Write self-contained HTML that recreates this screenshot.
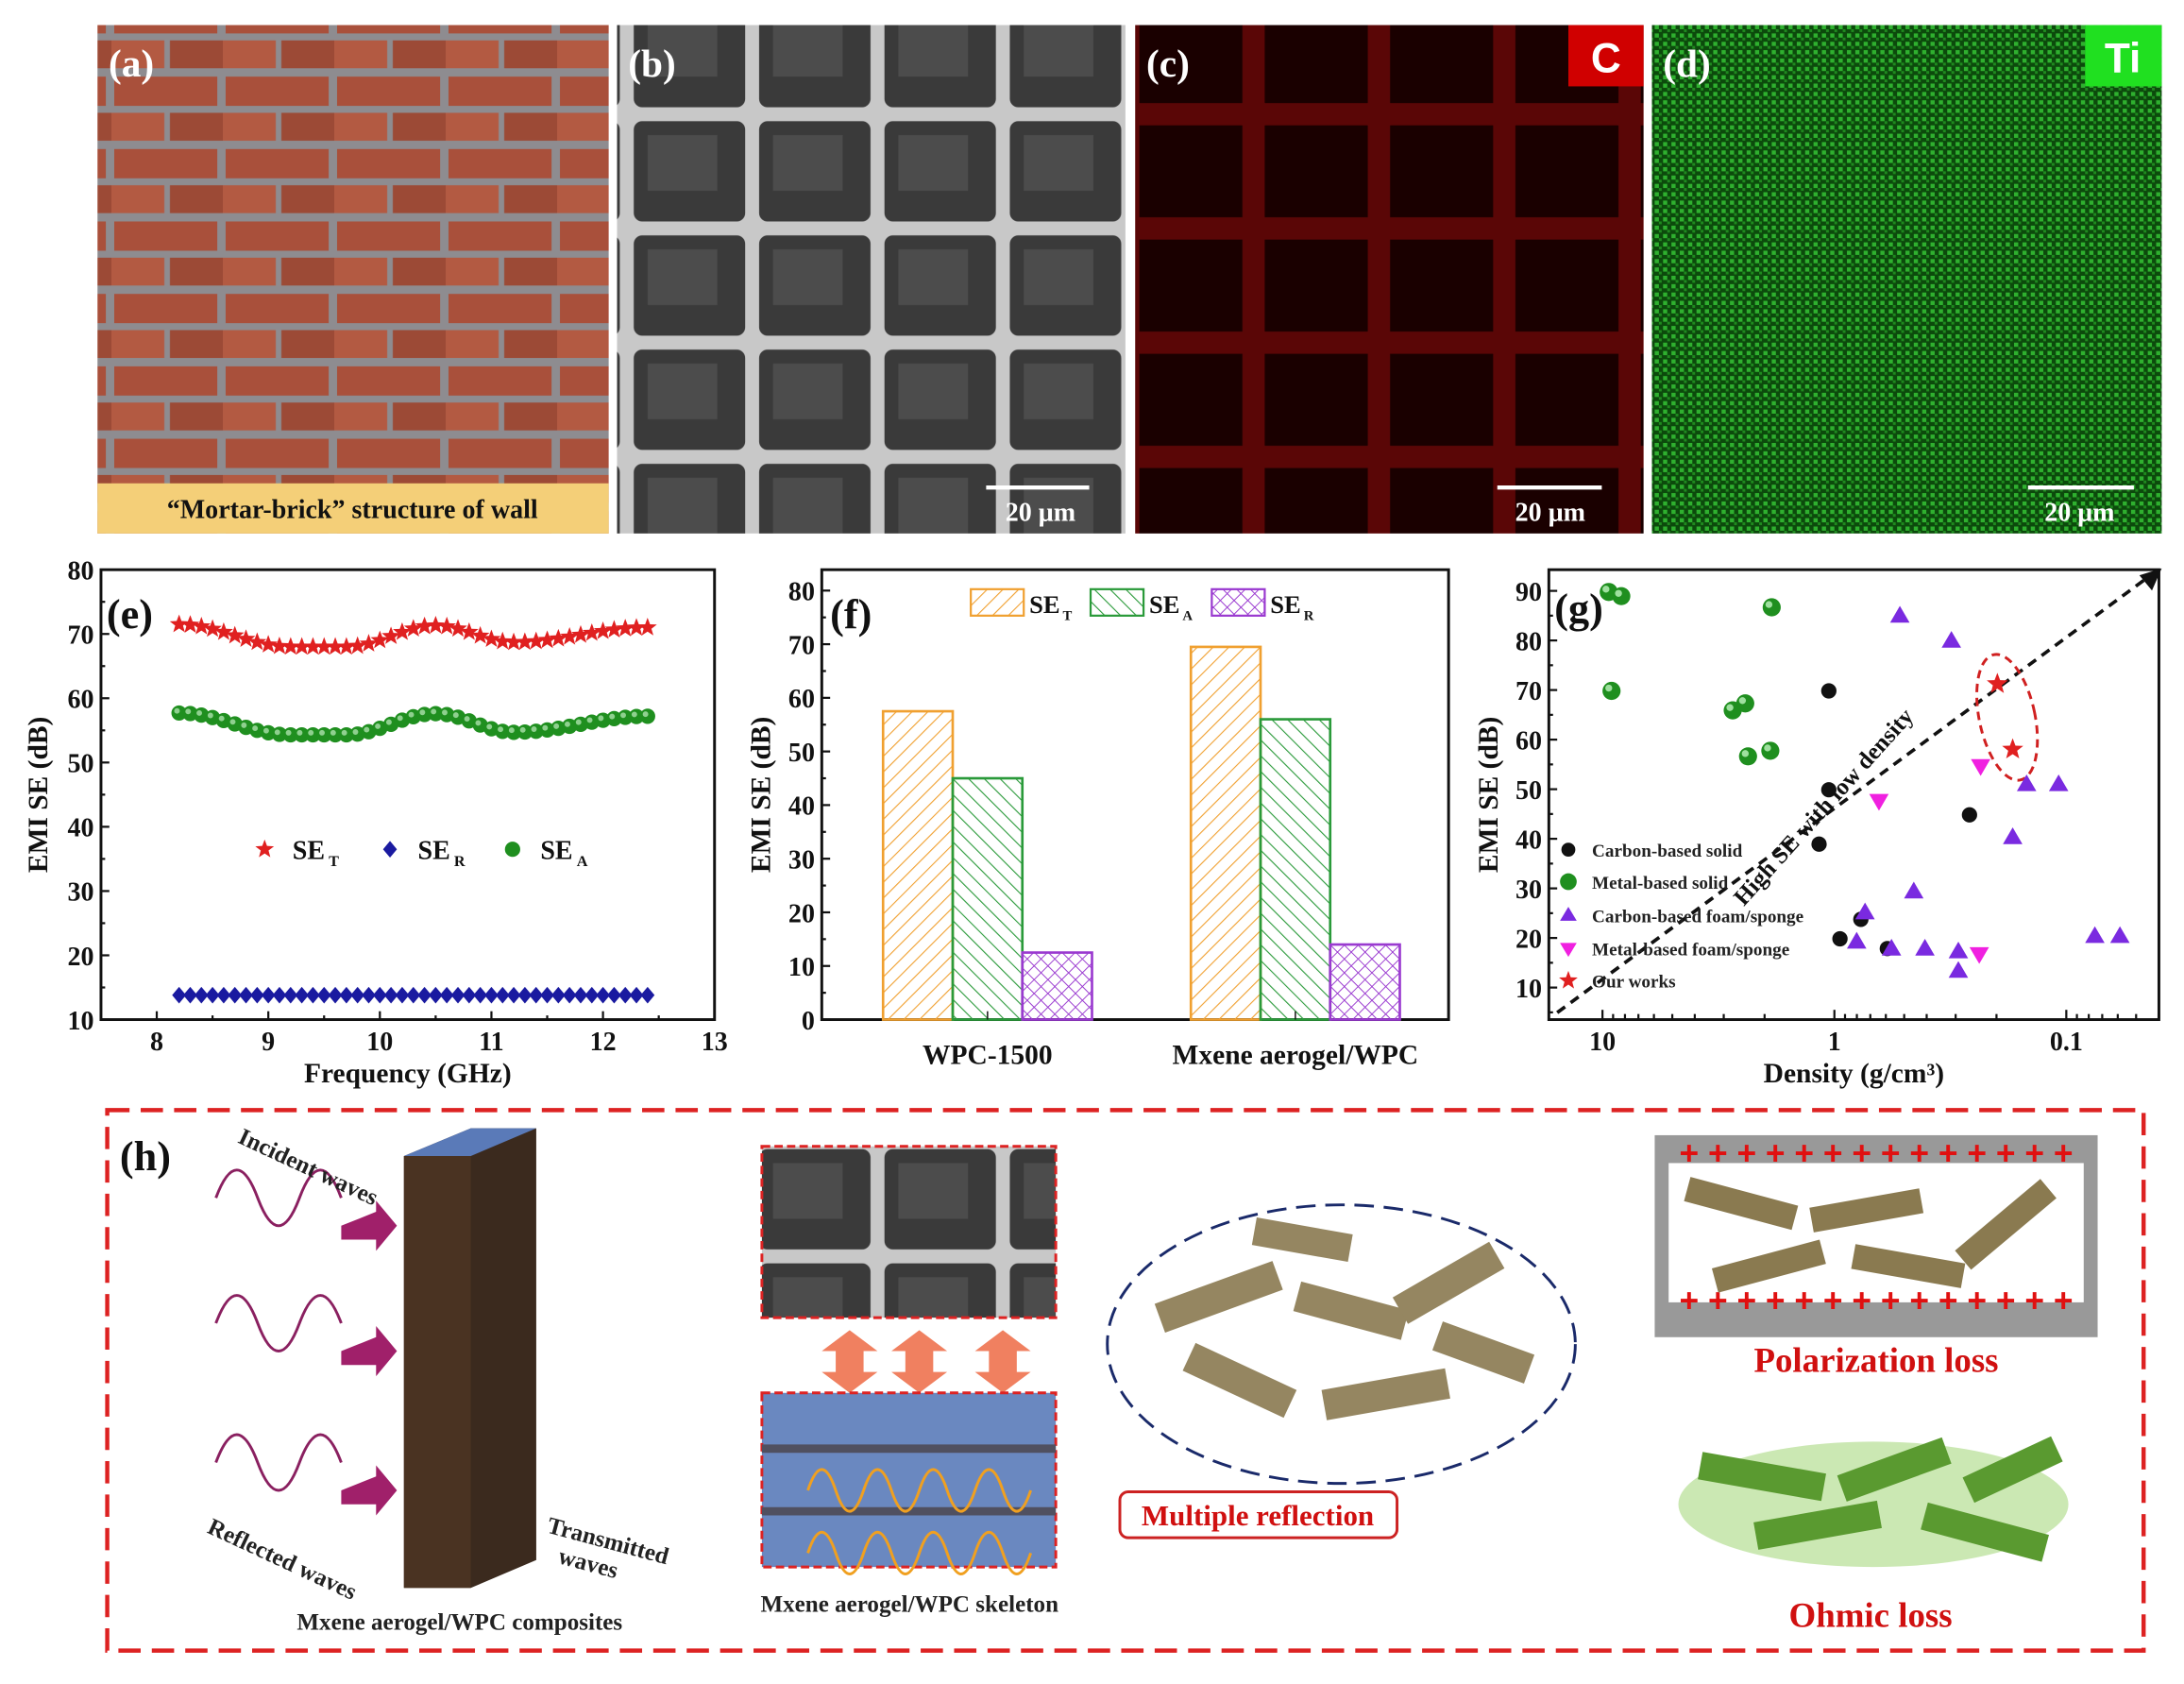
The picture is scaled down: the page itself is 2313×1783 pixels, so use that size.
<!DOCTYPE html>
<html><head><meta charset="utf-8"><style>
html,body{margin:0;padding:0;background:#fff;}
svg{display:block;font-family:"Liberation Serif",serif;font-weight:bold;}
</style></head><body>
<svg id="s" width="2313" height="1783" viewBox="0 0 1568 1209" preserveAspectRatio="none" xmlns="http://www.w3.org/2000/svg">
<defs>
<pattern id="brick" width="80" height="52" patternUnits="userSpaceOnUse">
<rect width="80" height="52" fill="#8e8c90"/>
<rect x="2" y="3" width="74" height="21" fill="#a9503b"/>
<rect x="-38" y="29" width="76" height="20" fill="#b35a42"/>
<rect x="42" y="29" width="76" height="20" fill="#9c4a36"/>
</pattern>
<pattern id="sem" width="90" height="82" patternUnits="userSpaceOnUse">
<rect width="90" height="82" fill="#c8c8c8"/>
<rect x="5" y="5" width="80" height="72" rx="6" fill="#3a3a3a"/>
<rect x="15" y="15" width="50" height="40" fill="#4c4c4c"/>
</pattern>
<pattern id="red" width="90" height="82" patternUnits="userSpaceOnUse">
<rect width="90" height="82" fill="#5a0606"/>
<rect x="8" y="8" width="74" height="66" fill="#1a0000"/>
</pattern>
<pattern id="grn" width="6" height="6" patternUnits="userSpaceOnUse">
<rect width="6" height="6" fill="#0c4a0c"/>
<rect x="0" y="0" width="3" height="3" fill="#2fb02f"/>
<rect x="3" y="3" width="2" height="2" fill="#1f8a1f"/>
</pattern>
<pattern id="hT" width="8" height="8" patternUnits="userSpaceOnUse" patternTransform="rotate(45)"><line x1="0" y1="0" x2="0" y2="8" stroke="#f0a030" stroke-width="1.5"/></pattern>
<pattern id="hA" width="8" height="8" patternUnits="userSpaceOnUse" patternTransform="rotate(-45)"><line x1="0" y1="0" x2="0" y2="8" stroke="#2a9a3a" stroke-width="1.5"/></pattern>
<pattern id="hR" width="7" height="7" patternUnits="userSpaceOnUse" patternTransform="rotate(45)"><path d="M0 0V7M0 0H7" stroke="#9a3ad0" stroke-width="1.3"/></pattern>
</defs>
<rect width="1568" height="1209" fill="#fff"/>
<!-- top photos -->
<rect x="70" y="18" width="367" height="365" fill="url(#brick)"/>
<rect x="70" y="347" width="367" height="36" fill="#f4cf78"/>
<text x="253" y="372" text-anchor="middle" font-size="19" fill="#111">“Mortar-brick” structure of wall</text>
<text x="78" y="55" font-size="28" fill="#fff">(a)</text>
<rect x="443" y="18" width="365" height="365" fill="url(#sem)"/>
<text x="451" y="55" font-size="28" fill="#fff">(b)</text>
<rect x="815" y="18" width="365" height="365" fill="url(#red)"/>
<text x="823" y="55" font-size="28" fill="#fff">(c)</text>
<rect x="1126" y="18" width="54" height="44" fill="#d00000"/><text x="1153" y="52" text-anchor="middle" font-size="30" fill="#fff" font-family="Liberation Sans">C</text>
<rect x="1186" y="18" width="366" height="365" fill="url(#grn)"/>
<text x="1194" y="55" font-size="28" fill="#fff">(d)</text>
<rect x="1497" y="18" width="55" height="44" fill="#20e020"/><text x="1524" y="52" text-anchor="middle" font-size="30" fill="#fff" font-family="Liberation Sans">Ti</text>
<g stroke="#fff" stroke-width="3"><line x1="708" y1="350" x2="782" y2="350"/><line x1="1075" y1="350" x2="1150" y2="350"/><line x1="1456" y1="350" x2="1532" y2="350"/></g>
<g fill="#fff" font-size="19" text-anchor="middle"><text x="747" y="374">20 μm</text><text x="1113" y="374">20 μm</text><text x="1493" y="374">20 μm</text></g>

<g id="e"></g>
<g id="f"></g>
<g id="g"></g>

<!-- panel h -->
<rect x="77" y="797" width="1462" height="388" fill="none" stroke="#d22" stroke-width="3" stroke-dasharray="16,8"/>
<text x="86" y="840" font-size="30" fill="#111">(h)</text>
<polygon points="290,830 338,810 385,810 385,1120 338,1140 290,1140" fill="#3b2a1e"/>
<polygon points="290,830 338,810 385,810 338,830" fill="#5a7ab8"/>
<rect x="290" y="830" width="48" height="310" fill="#4a3322"/>
<g fill="none" stroke-width="2">
<path d="M155,860 q15,-40 30,0 t30,0 t30,0" stroke="#8a2060"/>
<path d="M155,950 q15,-40 30,0 t30,0 t30,0" stroke="#8a2060"/>
<path d="M155,1050 q15,-40 30,0 t30,0 t30,0" stroke="#8a2060"/>
</g>
<g fill="#a0206a"><polygon points="245,880 270,870 270,862 285,880 270,898 270,890 245,890"/><polygon points="245,970 270,960 270,952 285,970 270,988 270,980 245,980"/><polygon points="245,1070 270,1060 270,1052 285,1070 270,1088 270,1080 245,1080"/></g>
<g font-size="17" fill="#222">
<text x="170" y="820" transform="rotate(25 170 820)">Incident waves</text>
<text x="148" y="1100" transform="rotate(25 148 1100)">Reflected waves</text>
<text x="392" y="1100" transform="rotate(15 392 1100)">Transmitted</text>
<text x="400" y="1122" transform="rotate(15 400 1122)">waves</text>
<text x="330" y="1170" text-anchor="middle">Mxene aerogel/WPC composites</text>
<text x="653" y="1157" text-anchor="middle">Mxene aerogel/WPC skeleton</text>
<text x="937" y="1030" text-anchor="middle">Mxene aerogel</text>
</g>
<rect x="547" y="823" width="211" height="123" fill="url(#sem)" stroke="#d22" stroke-width="2" stroke-dasharray="6,3"/>
<g fill="#f08060"><polygon points="590,970 610,955 630,970 620,970 620,985 630,985 610,1000 590,985 600,985 600,970"/><polygon points="640,970 660,955 680,970 670,970 670,985 680,985 660,1000 640,985 650,985 650,970"/><polygon points="700,970 720,955 740,970 730,970 730,985 740,985 720,1000 700,985 710,985 710,970"/></g>
<rect x="547" y="1000" width="211" height="125" fill="#6a88c0" stroke="#d22" stroke-width="2" stroke-dasharray="6,3"/>
<g stroke="#505060" stroke-width="6"><line x1="547" y1="1040" x2="758" y2="1040"/><line x1="547" y1="1085" x2="758" y2="1085"/></g>
<g fill="none" stroke="#f0a020" stroke-width="2"><path d="M580,1070 q10,-30 20,0 t20,0 t20,0 t20,0 t20,0 t20,0 t20,0 t20,0"/><path d="M580,1115 q10,-30 20,0 t20,0 t20,0 t20,0 t20,0 t20,0 t20,0 t20,0"/></g>
<ellipse cx="963" cy="965" rx="168" ry="100" fill="#fff" stroke="#1a2a6a" stroke-width="2" stroke-dasharray="14,7"/>
<g fill="#8a7a50" opacity="0.9">
<rect x="830" y="920" width="90" height="22" transform="rotate(-20 875 931)"/><rect x="930" y="930" width="80" height="22" transform="rotate(15 970 941)"/><rect x="1000" y="910" width="80" height="22" transform="rotate(-30 1040 921)"/><rect x="850" y="980" width="80" height="22" transform="rotate(25 890 991)"/><rect x="950" y="990" width="90" height="22" transform="rotate(-10 995 1001)"/><rect x="1030" y="960" width="70" height="22" transform="rotate(20 1065 971)"/><rect x="900" y="880" width="70" height="20" transform="rotate(10 935 890)"/>
</g>
<rect x="804" y="1071" width="199" height="33" rx="6" fill="#fff" stroke="#c22" stroke-width="2"/>
<text x="903" y="1095" text-anchor="middle" font-size="21" fill="#d01010">Multiple reflection</text>
<rect x="1188" y="815" width="318" height="145" fill="#999"/>
<rect x="1198" y="835" width="298" height="100" fill="#fff"/>
<text x="1347" y="836" text-anchor="middle" font-size="24" fill="#e01010" font-family="Liberation Sans">+ + + + + + + + + + + + + +</text>
<text x="1347" y="942" text-anchor="middle" font-size="24" fill="#e01010" font-family="Liberation Sans">+ + + + + + + + + + + + + +</text>
<g fill="#8a7a50"><rect x="1210" y="855" width="80" height="18" transform="rotate(15 1250 864)"/><rect x="1300" y="860" width="80" height="18" transform="rotate(-10 1340 869)"/><rect x="1400" y="870" width="80" height="18" transform="rotate(-40 1440 879)"/><rect x="1230" y="900" width="80" height="18" transform="rotate(-15 1270 909)"/><rect x="1330" y="900" width="80" height="18" transform="rotate(10 1370 909)"/></g>
<text x="1347" y="985" text-anchor="middle" font-size="25" fill="#d01010">Polarization loss</text>
<ellipse cx="1345" cy="1080" rx="140" ry="45" fill="#a8d880" opacity="0.6"/>
<g fill="#5a9a30"><rect x="1220" y="1050" width="90" height="20" transform="rotate(10 1265 1060)"/><rect x="1320" y="1045" width="80" height="20" transform="rotate(-20 1360 1055)"/><rect x="1260" y="1085" width="90" height="20" transform="rotate(-10 1305 1095)"/><rect x="1380" y="1090" width="90" height="20" transform="rotate(15 1425 1100)"/><rect x="1410" y="1045" width="70" height="20" transform="rotate(-25 1445 1055)"/></g>
<text x="1343" y="1168" text-anchor="middle" font-size="25" fill="#d01010">Ohmic loss</text>
</svg>
<script>
const NS="http://www.w3.org/2000/svg";
function el(p,t,a,txt){const e=document.createElementNS(NS,t);for(const k in a)e.setAttribute(k,a[k]);if(txt!==undefined)e.textContent=txt;p.appendChild(e);return e;}
function star(p,cx,cy,r,fill){let pts=[];for(let i=0;i<10;i++){const a=-Math.PI/2+i*Math.PI/5,rr=i%2?r*0.42:r;pts.push((cx+rr*Math.cos(a)).toFixed(1)+","+(cy+rr*Math.sin(a)).toFixed(1));}el(p,"polygon",{points:pts.join(" "),fill:fill});}
// panel e
(function(){const g=document.getElementById("e");const L=72.5,R=513,T=409,B=732;
const X=v=>L+(v-7.5)*(R-L)/5.5, Y=v=>B-(v-10)*(B-T)/70;
el(g,"rect",{x:L,y:T,width:R-L,height:B-T,fill:"none",stroke:"#111","stroke-width":2});
for(let v=10;v<=80;v+=5){const y=Y(v);el(g,"line",{x1:L,y1:y,x2:L+(v%10?3:6),y2:y,stroke:"#111","stroke-width":1.5});if(v%10==0)el(g,"text",{x:L-5,y:y+7,"text-anchor":"end","font-size":19,fill:"#111"},v);}
for(let v=7.5;v<=13;v+=0.5){const x=X(v);el(g,"line",{x1:x,y1:B,x2:x,y2:B-(v%1?3:6),stroke:"#111","stroke-width":1.5});if(v%1==0&&v>=8)el(g,"text",{x:x,y:B+22,"text-anchor":"middle","font-size":19,fill:"#111"},v);}
el(g,"text",{x:(L+R)/2,y:B+45,"text-anchor":"middle","font-size":20,fill:"#111"},"Frequency (GHz)");
el(g,"text",{x:0,y:0,"text-anchor":"middle","font-size":20,fill:"#111",transform:`translate(34 ${(T+B)/2}) rotate(-90)`},"EMI SE (dB)");
el(g,"text",{x:L+4,y:T+42,"font-size":30,fill:"#111"},"(e)");
function f(x,a,b,c,d,e){
 const k=[[8.2,a],[9.2,b],[9.7,b],[10.5,c],[11.2,d],[12.4,e]];
 for(let i=0;i<k.length-1;i++){if(x<=k[i+1][0]+1e-9){const t=(x-k[i][0])/(k[i+1][0]-k[i][0]);const s=(1-Math.cos(Math.PI*t))/2;return k[i][1]+(k[i+1][1]-k[i][1])*s;}}return e;}
for(let i=0;i<=42;i++){const x=8.2+i*0.1;
 star(g,X(x),Y(f(x,71.5,68,71.3,68.7,71)),7,"#e02020");
 const ya=Y(f(x,57.7,54.3,57.6,54.7,57.2));el(g,"circle",{cx:X(x),cy:ya,r:5.5,fill:"#1f8f1f"});el(g,"circle",{cx:X(x)-1.5,cy:ya-1.5,r:2,fill:"#8fd08f"});
 const yr=Y(13.8),xx=X(x);el(g,"polygon",{points:`${xx},${yr-6} ${xx+5},${yr} ${xx},${yr+6} ${xx-5},${yr}`,fill:"#1a1aa0"});}
const ly=Y(36.5);star(g,190,ly,7,"#e02020");el(g,"text",{x:210,y:ly+7,"font-size":19,fill:"#111"},"SE");el(g,"text",{x:236,y:ly+12,"font-size":11,fill:"#111"},"T");
el(g,"polygon",{points:`280,${ly-6} 285,${ly} 280,${ly+6} 275,${ly}`,fill:"#1a1aa0"});el(g,"text",{x:300,y:ly+7,"font-size":19,fill:"#111"},"SE");el(g,"text",{x:326,y:ly+12,"font-size":11,fill:"#111"},"R");
el(g,"circle",{cx:368,cy:ly,r:5.5,fill:"#1f8f1f"});el(g,"text",{x:388,y:ly+7,"font-size":19,fill:"#111"},"SE");el(g,"text",{x:414,y:ly+12,"font-size":11,fill:"#111"},"A");
})();
// panel f
(function(){const g=document.getElementById("f");const L=590,R=1040,T=409,B=732;const S=3.85;const Y=v=>B-v*S;
el(g,"rect",{x:L,y:T,width:R-L,height:B-T,fill:"none",stroke:"#111","stroke-width":2});
for(let v=0;v<=80;v+=5){const y=Y(v);el(g,"line",{x1:L,y1:y,x2:L+(v%10?3:6),y2:y,stroke:"#111","stroke-width":1.5});if(v%10==0)el(g,"text",{x:L-5,y:y+7,"text-anchor":"end","font-size":19,fill:"#111"},v);}
el(g,"text",{x:0,y:0,"text-anchor":"middle","font-size":20,fill:"#111",transform:`translate(553 ${(T+B)/2}) rotate(-90)`},"EMI SE (dB)");
el(g,"text",{x:596,y:T+42,"font-size":30,fill:"#111"},"(f)");
const bars=[[634,57.5,"hT","#f0a030"],[684,45,"hA","#2a9a3a"],[734,12.5,"hR","#9a3ad0"],[855,69.5,"hT","#f0a030"],[905,56,"hA","#2a9a3a"],[955,14,"hR","#9a3ad0"]];
bars.forEach(b=>{el(g,"rect",{x:b[0],y:Y(b[1]),width:50,height:b[1]*S,fill:"url(#"+b[2]+")",stroke:b[3],"stroke-width":1.8});});
el(g,"line",{x1:709,y1:B,x2:709,y2:B-6,stroke:"#111"});el(g,"line",{x1:930,y1:B,x2:930,y2:B-6,stroke:"#111"});
el(g,"text",{x:709,y:B+32,"text-anchor":"middle","font-size":20,fill:"#111"},"WPC-1500");
el(g,"text",{x:930,y:B+32,"text-anchor":"middle","font-size":20,fill:"#111"},"Mxene aerogel/WPC");
[[697,"hT","#f0a030","T"],[783,"hA","#2a9a3a","A"],[870,"hR","#9a3ad0","R"]].forEach(l=>{el(g,"rect",{x:l[0],y:423,width:38,height:19,fill:"url(#"+l[1]+")",stroke:l[2],"stroke-width":1.5});el(g,"text",{x:l[0]+42,y:440,"font-size":18,fill:"#111"},"SE");el(g,"text",{x:l[0]+66,y:445,"font-size":10,fill:"#111"},l[3]);});
})();
// panel g
(function(){const g=document.getElementById("g");const L=1112,R=1550,T=409,B=732;const Y=v=>709-(v-10)*3.56;const X=d=>1317-Math.log10(d)*166.5;
el(g,"rect",{x:L,y:T,width:R-L,height:B-T,fill:"none",stroke:"#111","stroke-width":2});
for(let v=5;v<=90;v+=5){const y=Y(v);el(g,"line",{x1:L,y1:y,x2:L+(v%10?3:6),y2:y,stroke:"#111","stroke-width":1.5});if(v%10==0)el(g,"text",{x:L-5,y:y+7,"text-anchor":"end","font-size":19,fill:"#111"},v);}
for(let e=1;e>=-2;e--)for(let m=1;m<10;m++){const d=m*Math.pow(10,e);const x=X(d);if(x<L||x>R)continue;el(g,"line",{x1:x,y1:B,x2:x,y2:B-(m==1?7:4),stroke:"#111","stroke-width":1.5});}
[["10",10],["1",1],["0.1",0.1]].forEach(t=>el(g,"text",{x:X(t[1]),y:B+22,"text-anchor":"middle","font-size":19,fill:"#111"},t[0]));
el(g,"text",{x:1331,y:B+45,"text-anchor":"middle","font-size":20,fill:"#111"},"Density (g/cm³)");
el(g,"text",{x:0,y:0,"text-anchor":"middle","font-size":20,fill:"#111",transform:`translate(1075 ${(T+B)/2}) rotate(-90)`},"EMI SE (dB)");
el(g,"line",{x1:1118,y1:727,x2:1540,y2:416,stroke:"#111","stroke-width":2.5,"stroke-dasharray":"7,5"});
el(g,"polygon",{points:"1552,408 1536,413 1545,424",fill:"#111"});
el(g,"text",{x:0,y:0,"font-size":17,fill:"#111",transform:"translate(1252 651) rotate(-48)"},"High SE with low density");
el(g,"text",{x:1116,y:447,"font-size":30,fill:"#111"},"(g)");
el(g,"ellipse",{cx:1441,cy:515,rx:20,ry:46,fill:"none",stroke:"#d02020","stroke-width":2,"stroke-dasharray":"6,4",transform:"rotate(-12 1441 515)"});
const G=[[1155,425],[1164,428],[1157,496],[1272,436],[1244,510],[1253,505],[1255,543],[1271,539]];
G.forEach(p=>{el(g,"circle",{cx:p[0],cy:p[1],r:6.5,fill:"#1f8f1f"});el(g,"circle",{cx:p[0]-2,cy:p[1]-2,r:2.5,fill:"#9fe09f"});});
[[1313,496],[1313,567],[1306,606],[1321,674],[1336,660],[1355,681],[1414,585]].forEach(p=>el(g,"circle",{cx:p[0],cy:p[1],r:5.5,fill:"#111"}));
[[1364,442],[1401,460],[1455,563],[1478,563],[1445,601],[1374,640],[1333,676],[1339,655],[1358,681],[1382,681],[1406,683],[1406,697],[1504,672],[1522,672]].forEach(p=>el(g,"polygon",{points:`${p[0]},${p[1]-7} ${p[0]+7},${p[1]+5} ${p[0]-7},${p[1]+5}`,fill:"#7a2ae0"}));
[[1349,575],[1422,550],[1421,685]].forEach(p=>el(g,"polygon",{points:`${p[0]-7},${p[1]-5} ${p[0]+7},${p[1]-5} ${p[0]},${p[1]+7}`,fill:"#f020e0"}));
star(g,1434,491,8,"#e02020");star(g,1445,538,8,"#e02020");
const lg=[["Carbon-based solid",610],["Metal-based solid",633],["Carbon-based foam/sponge",657],["Metal-based foam/sponge",681],["Our works",704]];
el(g,"circle",{cx:1126,cy:610,r:5,fill:"#111"});el(g,"circle",{cx:1126,cy:633,r:6,fill:"#1f8f1f"});
el(g,"polygon",{points:"1126,651 1132,661 1120,661",fill:"#7a2ae0"});el(g,"polygon",{points:"1120,677 1132,677 1126,687",fill:"#f020e0"});star(g,1126,704,7,"#e02020");
lg.forEach(l=>el(g,"text",{x:1143,y:l[1]+5,"font-size":13,fill:"#222"},l[0]));
})();
</script>
</body></html>
